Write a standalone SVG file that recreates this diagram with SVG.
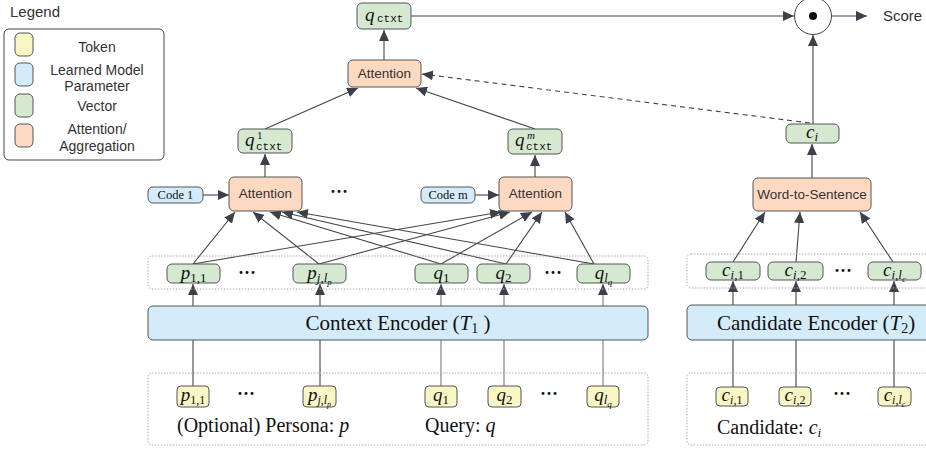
<svg xmlns="http://www.w3.org/2000/svg" width="926" height="451" viewBox="0 0 926 451">
<defs>
<marker id="arr" markerUnits="userSpaceOnUse" markerWidth="12" markerHeight="10" refX="11" refY="5" orient="auto">
<path d="M0,0 L11,5 L0,10 z" fill="#3b404b"/>
</marker>
<style>
.sans{font-family:"Liberation Sans",Arial,sans-serif;fill:#333}
.serif{font-family:"Liberation Serif","Times New Roman",serif;fill:#111}
.mono{font-family:"Liberation Mono","Courier New",monospace}
.it{font-style:italic}
.tok{fill:#f9f6c6;stroke:#555;stroke-width:1}
.par{fill:#d4ecfa;stroke:#555;stroke-width:1}
.vec{fill:#d5e8d0;stroke:#555;stroke-width:1}
.att{fill:#fdd9c2;stroke:#555;stroke-width:1}
.grp{fill:none;stroke:#aaa;stroke-width:1;stroke-dasharray:1.5 1.5}
.ln{stroke:#444;stroke-width:1.1;fill:none}
.lnq{stroke:#777;stroke-width:1.1;fill:none}
.a{marker-end:url(#arr)}
.dot{font-family:"Liberation Serif",serif;font-size:18px;fill:#111;font-weight:bold}
</style>
</defs>
<rect width="926" height="451" fill="#fff"/>

<!-- Legend -->
<g id="legend">
<text x="10" y="17" class="sans" font-size="15">Legend</text>
<rect x="4" y="29" width="160" height="131" rx="5" fill="#fff" stroke="#444"/>
<rect x="15" y="33" width="18" height="23" rx="5" class="tok"/>
<rect x="15" y="63" width="18" height="23" rx="5" class="par"/>
<rect x="15" y="94" width="18" height="23" rx="5" class="vec"/>
<rect x="15" y="124" width="18" height="23" rx="5" class="att"/>
<g class="sans" font-size="14" text-anchor="middle">
<text x="97" y="52">Token</text>
<text x="97" y="75">Learned Model</text>
<text x="97" y="91">Parameter</text>
<text x="97" y="111">Vector</text>
<text x="97" y="134">Attention/</text>
<text x="97" y="151">Aggregation</text>
</g>
</g>

<!-- connectors -->
<g id="connectors">
<line x1="411" y1="16" x2="794" y2="16" class="ln a"/>
<line x1="832" y1="16" x2="867" y2="16" class="ln a"/>
<line x1="813" y1="124" x2="813" y2="35" class="ln a"/>
<line x1="384" y1="60" x2="384" y2="30" class="ln a"/>
<line x1="810" y1="123" x2="422" y2="74" class="ln a" stroke-dasharray="5 4"/>
<line x1="265" y1="129" x2="358" y2="88" class="ln a"/>
<line x1="535" y1="129" x2="416" y2="88" class="ln a"/>
<line x1="265" y1="177" x2="265" y2="154" class="ln a"/>
<line x1="535" y1="177" x2="535" y2="155" class="ln a"/>
<line x1="203" y1="195" x2="229" y2="195" class="ln a"/>
<line x1="475" y1="195" x2="499" y2="195" class="ln a"/>
<!-- tokens to attention 1 -->
<line x1="193" y1="264" x2="235" y2="212" class="ln a"/>
<line x1="319" y1="264" x2="253" y2="212" class="ln a"/>
<line x1="441" y1="264" x2="270" y2="212" class="ln a"/>
<line x1="506" y1="264" x2="282" y2="212" class="ln a"/>
<line x1="594" y1="264" x2="297" y2="212" class="ln a"/>
<!-- tokens to attention m -->
<line x1="193" y1="264" x2="501" y2="212" class="ln a"/>
<line x1="319" y1="264" x2="510" y2="212" class="ln a"/>
<line x1="441" y1="264" x2="532" y2="212" class="ln a"/>
<line x1="506" y1="264" x2="542" y2="212" class="ln a"/>
<line x1="594" y1="264" x2="565" y2="212" class="ln a"/>
<!-- encoder to vectors -->
<line x1="193" y1="306" x2="193" y2="284" class="ln a"/>
<line x1="320" y1="306" x2="320" y2="284" class="ln a"/>
<line x1="441" y1="306" x2="441" y2="284" class="lnq a"/>
<line x1="504" y1="306" x2="504" y2="284" class="lnq a"/>
<line x1="603" y1="306" x2="603" y2="284" class="lnq a"/>
<!-- tokens to encoder -->
<line x1="193" y1="340" x2="193" y2="386" class="ln"/>
<line x1="320" y1="340" x2="320" y2="386" class="ln"/>
<line x1="441" y1="340" x2="441" y2="386" class="lnq"/>
<line x1="504" y1="340" x2="504" y2="386" class="lnq"/>
<line x1="603" y1="340" x2="603" y2="386" class="lnq"/>
<!-- candidate side -->
<line x1="812" y1="178" x2="812" y2="144" class="ln a"/>
<line x1="733" y1="262" x2="765" y2="212" class="ln a"/>
<line x1="796" y1="262" x2="800" y2="212" class="ln a"/>
<line x1="893" y1="262" x2="860" y2="212" class="ln a"/>
<line x1="733" y1="305" x2="733" y2="281" class="ln a"/>
<line x1="796" y1="305" x2="796" y2="281" class="ln a"/>
<line x1="894" y1="305" x2="894" y2="281" class="ln a"/>
<line x1="733" y1="340" x2="733" y2="387" class="ln"/>
<line x1="796" y1="340" x2="796" y2="387" class="ln"/>
<line x1="894" y1="340" x2="894" y2="387" class="ln"/>
</g>

<!-- groups -->
<rect x="148" y="256" width="500" height="33" rx="4" class="grp"/>
<rect x="148" y="373" width="500" height="72" rx="4" class="grp"/>
<rect x="687" y="254" width="260" height="34" rx="4" class="grp"/>
<rect x="687" y="373" width="260" height="72" rx="4" class="grp"/>

<!-- score -->
<g id="score">
<circle cx="813" cy="16" r="18.5" fill="#fff" stroke="#444" stroke-width="1"/>
<circle cx="813" cy="16" r="4" fill="#111"/>
<text x="883" y="21" class="sans" font-size="15">Score</text>
</g>

<g id="qctxt">
<rect x="357" y="3" width="54" height="26" rx="5" class="vec"/>
<text x="365" y="21" class="serif it" font-size="19">q</text>
<text x="377" y="22" class="mono" font-size="11" fill="#111">ctxt</text>
</g>

<g id="attention-top">
<rect x="348" y="60" width="73" height="27" rx="5" class="att"/>
<text x="384.5" y="78" class="sans" font-size="13.5" text-anchor="middle">Attention</text>
</g>

<g id="qctxt1">
<rect x="238" y="129" width="54" height="24" rx="5" class="vec"/>
<text x="245" y="146" class="serif it" font-size="19">q</text>
<text x="257" y="139" class="serif" font-size="11">1</text>
<text x="256" y="150" class="mono" font-size="11" fill="#111">ctxt</text>
</g>

<g id="qctxtm">
<rect x="508" y="129" width="54" height="25" rx="5" class="vec"/>
<text x="515" y="146" class="serif it" font-size="19">q</text>
<text x="527" y="139" class="serif it" font-size="11">m</text>
<text x="526" y="150" class="mono" font-size="11" fill="#111">ctxt</text>
</g>

<g id="ci">
<rect x="786" y="124" width="53" height="19" rx="5" class="vec"/>
<text x="812" y="138" class="serif it" font-size="19" text-anchor="middle">c<tspan font-size="13" dy="3">i</tspan></text>
</g>

<g id="attention1">
<rect x="229" y="177" width="73" height="34" rx="5" class="att"/>
<text x="265.5" y="198" class="sans" font-size="13.5" text-anchor="middle">Attention</text>
</g>
<g id="code1">
<rect x="148" y="187" width="55" height="16" rx="5" class="par"/>
<text x="175.5" y="199" class="serif" font-size="12.5" text-anchor="middle">Code 1</text>
</g>
<text x="339" y="198" class="dot" text-anchor="middle">···</text>

<g id="attentionm">
<rect x="499" y="177" width="73" height="34" rx="5" class="att"/>
<text x="535.5" y="198" class="sans" font-size="13.5" text-anchor="middle">Attention</text>
</g>
<g id="codem">
<rect x="421" y="187" width="54" height="16" rx="5" class="par"/>
<text x="448" y="199" class="serif" font-size="12.5" text-anchor="middle">Code m</text>
</g>

<g id="w2s">
<rect x="753" y="178" width="118" height="33" rx="5" class="att"/>
<text x="812" y="199" class="sans" font-size="13.5" text-anchor="middle">Word-to-Sentence</text>
</g>

<!-- vector row -->
<g id="v-p11">
<rect x="167" y="264" width="53" height="19" rx="5" class="vec"/>
<text x="193.5" y="279" class="serif" font-size="19" text-anchor="middle"><tspan class="it">p</tspan><tspan font-size="13" dy="3">1,1</tspan></text>
</g>
<text x="247" y="279" class="dot" text-anchor="middle">···</text>
<g id="v-pj">
<rect x="293" y="264" width="53" height="19" rx="5" class="vec"/>
<text x="319.5" y="279" class="serif" font-size="19" text-anchor="middle"><tspan class="it">p</tspan><tspan font-size="13" dy="3"><tspan class="it">j</tspan>,<tspan class="it">l</tspan></tspan><tspan font-size="9" dy="3" class="it">p</tspan></text>
</g>
<g id="v-q1">
<rect x="415" y="264" width="53" height="19" rx="5" class="vec"/>
<text x="441.5" y="279" class="serif" font-size="19" text-anchor="middle"><tspan class="it">q</tspan><tspan font-size="13" dy="3">1</tspan></text>
</g>
<g id="v-q2">
<rect x="477" y="264" width="53" height="19" rx="5" class="vec"/>
<text x="503.5" y="279" class="serif" font-size="19" text-anchor="middle"><tspan class="it">q</tspan><tspan font-size="13" dy="3">2</tspan></text>
</g>
<text x="553" y="279" class="dot" text-anchor="middle">···</text>
<g id="v-qlq">
<rect x="577" y="264" width="53" height="19" rx="5" class="vec"/>
<text x="603.5" y="279" class="serif" font-size="19" text-anchor="middle"><tspan class="it">q</tspan><tspan font-size="13" dy="3" class="it">l</tspan><tspan font-size="9" dy="3" class="it">q</tspan></text>
</g>

<g id="v-ci1">
<rect x="706" y="262" width="54" height="18" rx="5" class="vec"/>
<text x="733" y="276" class="serif" font-size="19" text-anchor="middle"><tspan class="it">c</tspan><tspan font-size="13" dy="3"><tspan class="it">i</tspan>,1</tspan></text>
</g>
<g id="v-ci2">
<rect x="768" y="262" width="55" height="18" rx="5" class="vec"/>
<text x="795.5" y="276" class="serif" font-size="19" text-anchor="middle"><tspan class="it">c</tspan><tspan font-size="13" dy="3"><tspan class="it">i</tspan>,2</tspan></text>
</g>
<text x="843" y="277" class="dot" text-anchor="middle">···</text>
<g id="v-cil">
<rect x="868" y="262" width="53" height="18" rx="5" class="vec"/>
<text x="894.5" y="276" class="serif" font-size="19" text-anchor="middle"><tspan class="it">c</tspan><tspan font-size="13" dy="3"><tspan class="it">i</tspan>,<tspan class="it">l</tspan></tspan><tspan font-size="9" dy="3" class="it">c</tspan></text>
</g>

<!-- encoders -->
<g id="context-encoder">
<rect x="148" y="306" width="500" height="34" rx="5" class="par"/>
<text x="398" y="330" class="serif" font-size="21" text-anchor="middle">Context Encoder (<tspan class="it">T</tspan><tspan font-size="14" dy="3">1</tspan><tspan dy="-3"> )</tspan></text>
</g>
<g id="candidate-encoder">
<rect x="687" y="305" width="262" height="35" rx="5" class="par"/>
<text x="717" y="330" class="serif" font-size="21">Candidate Encoder (<tspan class="it">T</tspan><tspan font-size="14" dy="3">2</tspan><tspan dy="-3">)</tspan></text>
</g>

<!-- token row -->
<g id="t-p11">
<rect x="177" y="386" width="32" height="21" rx="4" class="tok"/>
<text x="193" y="401" class="serif" font-size="19" text-anchor="middle"><tspan class="it">p</tspan><tspan font-size="12" dy="3">1,1</tspan></text>
</g>
<text x="246" y="400" class="dot" text-anchor="middle">···</text>
<g id="t-pj">
<rect x="303" y="386" width="33" height="21" rx="4" class="tok"/>
<text x="319.5" y="401" class="serif" font-size="19" text-anchor="middle"><tspan class="it">p</tspan><tspan font-size="12" dy="3"><tspan class="it">j</tspan>,<tspan class="it">l</tspan></tspan><tspan font-size="8" dy="3" class="it">p</tspan></text>
</g>
<g id="t-q1">
<rect x="425" y="386" width="32" height="21" rx="4" class="tok"/>
<text x="441" y="401" class="serif" font-size="19" text-anchor="middle"><tspan class="it">q</tspan><tspan font-size="13" dy="3">1</tspan></text>
</g>
<g id="t-q2">
<rect x="488" y="386" width="33" height="21" rx="4" class="tok"/>
<text x="504.5" y="401" class="serif" font-size="19" text-anchor="middle"><tspan class="it">q</tspan><tspan font-size="13" dy="3">2</tspan></text>
</g>
<text x="549" y="400" class="dot" text-anchor="middle">···</text>
<g id="t-qlq">
<rect x="587" y="386" width="32" height="21" rx="4" class="tok"/>
<text x="603" y="401" class="serif" font-size="19" text-anchor="middle"><tspan class="it">q</tspan><tspan font-size="13" dy="3" class="it">l</tspan><tspan font-size="9" dy="3" class="it">q</tspan></text>
</g>
<text x="177" y="432" class="serif" font-size="20">(Optional) Persona: <tspan class="it">p</tspan></text>
<text x="425" y="432" class="serif" font-size="20">Query: <tspan class="it">q</tspan></text>

<g id="t-ci1">
<rect x="716" y="387" width="32" height="19" rx="4" class="tok"/>
<text x="732" y="401" class="serif" font-size="19" text-anchor="middle"><tspan class="it">c</tspan><tspan font-size="12" dy="3"><tspan class="it">i</tspan>,1</tspan></text>
</g>
<g id="t-ci2">
<rect x="779" y="387" width="32" height="19" rx="4" class="tok"/>
<text x="795" y="401" class="serif" font-size="19" text-anchor="middle"><tspan class="it">c</tspan><tspan font-size="12" dy="3"><tspan class="it">i</tspan>,2</tspan></text>
</g>
<text x="842" y="400" class="dot" text-anchor="middle">···</text>
<g id="t-cil">
<rect x="878" y="387" width="33" height="19" rx="4" class="tok"/>
<text x="894.5" y="401" class="serif" font-size="19" text-anchor="middle"><tspan class="it">c</tspan><tspan font-size="12" dy="3"><tspan class="it">i</tspan>,<tspan class="it">l</tspan></tspan><tspan font-size="8" dy="3" class="it">c</tspan></text>
</g>
<text x="717" y="434" class="serif" font-size="20">Candidate: <tspan class="it">c</tspan><tspan font-size="13" dy="3" class="it">i</tspan></text>
</svg>
